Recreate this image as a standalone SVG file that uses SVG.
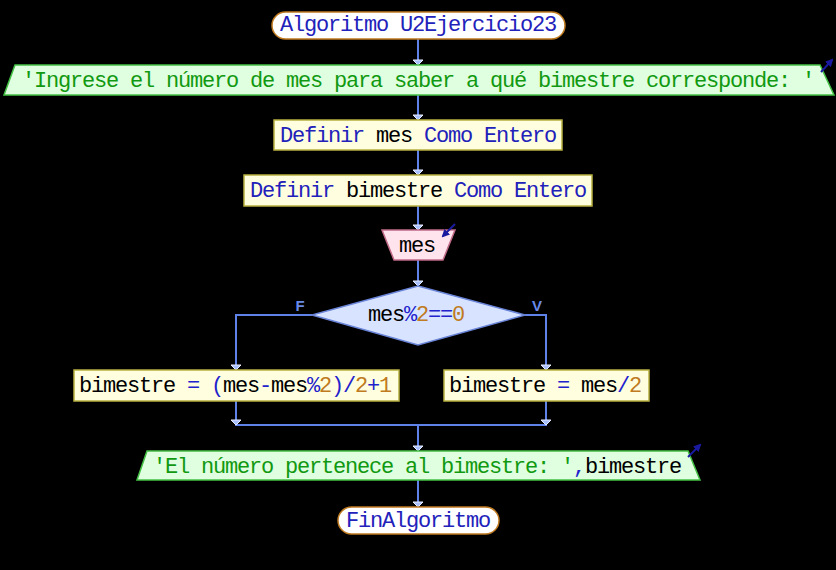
<svg xmlns="http://www.w3.org/2000/svg" width="836" height="570" viewBox="0 0 836 570">
<defs>
<style>
text{font-family:"Liberation Mono","DejaVu Sans Mono",monospace;font-size:22px;letter-spacing:-1.2px;text-anchor:middle;fill:#000}
.kw{fill:#2222bb}
.str{fill:#119911}
.num{fill:#c07a20}
.op{fill:#2222cc}
text.lbl{font-family:"Liberation Sans","DejaVu Sans",sans-serif;font-size:15px;letter-spacing:0;fill:#6a8ae8;font-weight:bold}
.term{fill:#ffffff;stroke:#c07a20;stroke-width:1.5}
.io{fill:#e0ffe0;stroke:#44c044;stroke-width:1.5}
.proc{fill:#ffffe0;stroke:#b8b040;stroke-width:1.5}
.inp{fill:#ffe4ee;stroke:#c06a88;stroke-width:1.5}
.dec{fill:#d8e4ff;stroke:#6a84d8;stroke-width:1.5}
.con{fill:none;stroke:#5f82e8;stroke-width:2}
.ah{fill:#a8bfff;stroke:#e8eeff;stroke-width:1}
.io-arrow{stroke:#1a1aa0;stroke-width:2;fill:none}
</style>
<marker id="mk" markerWidth="8" markerHeight="8" refX="6" refY="4" orient="auto" markerUnits="userSpaceOnUse">
<path d="M0,0 L8,4 L0,8 z" fill="#1a1aa0"/>
</marker>
</defs>
<rect width="836" height="570" fill="#000"/>

<g id="connectors">
<line class="con" x1="418" y1="39" x2="418" y2="65"/>
<line class="con" x1="418" y1="95" x2="418" y2="120"/>
<line class="con" x1="418" y1="150" x2="418" y2="175"/>
<line class="con" x1="418" y1="206" x2="418" y2="230"/>
<line class="con" x1="418" y1="260" x2="418" y2="286"/>
<polyline class="con" points="312,315 236,315 236,370"/>
<polyline class="con" points="525,315 546,315 546,370"/>
<line class="con" x1="236" y1="401" x2="236" y2="425"/>
<line class="con" x1="546" y1="401" x2="546" y2="425"/>
<line class="con" x1="235" y1="425" x2="547" y2="425"/>
<line class="con" x1="418" y1="425" x2="418" y2="451"/>
<line class="con" x1="418" y1="480" x2="418" y2="507"/>
<path class="ah" d="M413,60 L423,60 L418,65 z"/>
<path class="ah" d="M413,115 L423,115 L418,120 z"/>
<path class="ah" d="M413,170 L423,170 L418,175 z"/>
<path class="ah" d="M413,225 L423,225 L418,230 z"/>
<path class="ah" d="M413,281 L423,281 L418,286 z"/>
<path class="ah" d="M231,365 L241,365 L236,370 z"/>
<path class="ah" d="M541,365 L551,365 L546,370 z"/>
<path class="ah" d="M231,420 L241,420 L236,425 z"/>
<path class="ah" d="M541,420 L551,420 L546,425 z"/>
<path class="ah" d="M413,446 L423,446 L418,451 z"/>
<path class="ah" d="M413,502 L423,502 L418,507 z"/>
<text class="lbl" x="300" y="311">F</text>
<text class="lbl" x="537" y="311">V</text>
</g>

<g id="start">
<rect class="term" x="272" y="12" width="293" height="27" rx="13.5"/>
<text x="418" y="31" class="kw">Algoritmo U2Ejercicio23</text>
</g>

<g id="leer-prompt">
<path class="io" d="M15,65 L820,65 L834,95 L4,95 z"/>
<text x="418" y="87" class="str">'Ingrese el número de mes para saber a qué bimestre corresponde: '</text>
<line class="io-arrow" x1="821" y1="72" x2="832" y2="60" marker-end="url(#mk)"/>
</g>

<g id="def-mes">
<rect class="proc" x="274" y="120" width="288" height="30"/>
<text x="418" y="142"><tspan class="kw">Definir</tspan> mes <tspan class="kw">Como Entero</tspan></text>
</g>

<g id="def-bimestre">
<rect class="proc" x="244" y="175" width="348" height="31"/>
<text x="418" y="197"><tspan class="kw">Definir</tspan> bimestre <tspan class="kw">Como Entero</tspan></text>
</g>

<g id="leer-mes">
<path class="inp" d="M382,230 L455,230 L443,260 L394,260 z"/>
<text x="417" y="252">mes</text>
<line class="io-arrow" x1="455" y1="224" x2="443" y2="236" marker-end="url(#mk)"/>
</g>

<g id="decision">
<path class="dec" d="M418,286 L525,315 L418,345 L312,315 z"/>
<text x="416" y="321">mes<tspan class="op">%</tspan><tspan class="num">2</tspan><tspan class="op">==</tspan><tspan class="num">0</tspan></text>
</g>

<g id="asig-f">
<rect class="proc" x="74" y="370" width="325" height="31"/>
<text x="235" y="392">bimestre <tspan class="op">=</tspan> <tspan class="op">(</tspan>mes<tspan class="op">-</tspan>mes<tspan class="op">%</tspan><tspan class="num">2</tspan><tspan class="op">)/</tspan><tspan class="num">2</tspan><tspan class="op">+</tspan><tspan class="num">1</tspan></text>
</g>

<g id="asig-v">
<rect class="proc" x="444" y="370" width="205" height="31"/>
<text x="545" y="392">bimestre <tspan class="op">=</tspan> mes<tspan class="op">/</tspan><tspan class="num">2</tspan></text>
</g>

<g id="escribir">
<path class="io" d="M147,451 L688,451 L700,480 L137,480 z"/>
<text x="417" y="473"><tspan class="str">'El número pertenece al bimestre: '</tspan><tspan class="op">,</tspan>bimestre</text>
<line class="io-arrow" x1="688" y1="457" x2="700" y2="445" marker-end="url(#mk)"/>
</g>

<g id="end">
<rect class="term" x="338" y="507" width="161" height="27" rx="13.5"/>
<text x="418" y="527" class="kw">FinAlgoritmo</text>
</g>
</svg>
